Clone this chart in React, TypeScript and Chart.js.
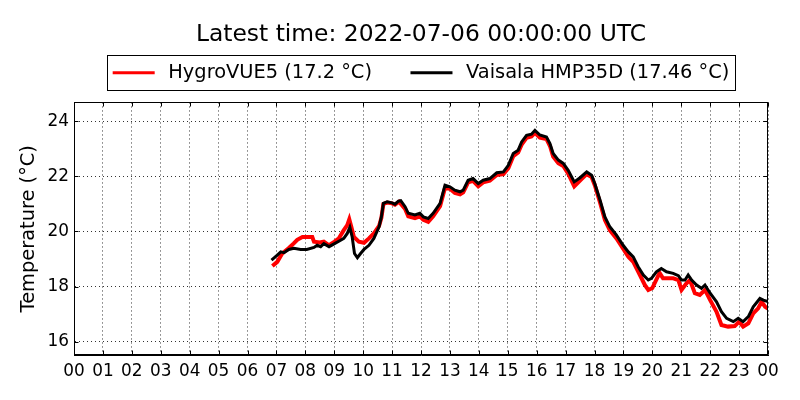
import { useEffect, useRef } from "react";
import { Chart, registerables } from "chart.js";

Chart.register(...registerables);

const FONT = "DejaVu Sans";

// hour labels along the bottom axis (0..24 h, midnight shown as 00 both ends)
const hourLabels = [
  "00", "01", "02", "03", "04", "05", "06", "07", "08", "09", "10", "11", "12",
  "13", "14", "15", "16", "17", "18", "19", "20", "21", "22", "23", "00",
];

// HygroVUE5 readings (hours since 2022-07-05 00:00 UTC, °C)
const hygroHours = [
  6.86, 7.03, 7.2, 7.43, 7.6, 7.72, 7.9, 8.07, 8.24, 8.3, 8.5, 8.64, 8.82, 9.01,
  9.16, 9.33, 9.45, 9.52, 9.59, 9.68, 9.85, 10.03, 10.2, 10.37, 10.55, 10.63,
  10.7, 10.83, 11.0, 11.1, 11.24, 11.45, 11.56, 11.79, 11.96, 12.08, 12.25,
  12.42, 12.66, 12.83, 13.0, 13.17, 13.35, 13.46, 13.63, 13.8, 13.98, 14.15,
  14.38, 14.62, 14.85, 15.02, 15.19, 15.36, 15.48, 15.65, 15.82, 15.94, 16.11,
  16.34, 16.46, 16.57, 16.75, 16.92, 17.09, 17.3, 17.5, 17.73, 17.9, 18.01,
  18.19, 18.36, 18.53, 18.76, 18.99, 19.17, 19.34, 19.51, 19.74, 19.86, 20.0,
  20.25, 20.37, 20.72, 20.9, 21.01, 21.18, 21.3, 21.47, 21.64, 21.82, 22.0,
  22.22, 22.39, 22.62, 22.85, 23.0, 23.14, 23.32, 23.49, 23.66, 23.78, 23.9, 24.0,
];
const hygroTemps = [
  18.75, 18.9, 19.2, 19.4, 19.57, 19.7, 19.8, 19.8, 19.8, 19.63, 19.6, 19.63,
  19.5, 19.63, 19.75, 20.05, 20.23, 20.44, 20.17, 19.8, 19.63, 19.59, 19.75,
  19.93, 20.2, 20.5, 21.0, 21.05, 21.02, 20.97, 21.08, 20.82, 20.55, 20.48,
  20.55, 20.42, 20.35, 20.55, 20.92, 21.58, 21.55, 21.4, 21.35, 21.42, 21.78,
  21.84, 21.64, 21.78, 21.84, 22.05, 22.08, 22.3, 22.73, 22.87, 23.15, 23.4,
  23.45, 23.58, 23.4, 23.35, 23.1, 22.72, 22.48, 22.38, 22.1, 21.64, 21.85,
  22.08, 21.98, 21.68, 21.05, 20.42, 20.05, 19.75, 19.38, 19.08, 18.9, 18.55,
  18.06, 17.88, 17.95, 18.5, 18.3, 18.3, 18.24, 17.88, 18.12, 18.24, 17.76,
  17.7, 17.88, 17.51, 17.09, 16.61, 16.55, 16.57, 16.73, 16.55, 16.67, 17.03,
  17.21, 17.45, 17.27, 17.2,
];

// Vaisala HMP35D readings
const vaisalaHours = [
  6.83, 7.03, 7.15, 7.26, 7.43, 7.6, 7.84, 8.05, 8.3, 8.41, 8.53, 8.64, 8.82,
  9.01, 9.22, 9.33, 9.45, 9.54, 9.62, 9.7, 9.8, 9.91, 10.03, 10.2, 10.37, 10.55,
  10.63, 10.7, 10.83, 11.0, 11.1, 11.22, 11.3, 11.45, 11.56, 11.79, 11.96, 12.08,
  12.25, 12.42, 12.66, 12.83, 13.0, 13.17, 13.35, 13.46, 13.63, 13.8, 13.98,
  14.15, 14.38, 14.62, 14.85, 15.02, 15.19, 15.36, 15.48, 15.65, 15.82, 15.94,
  16.11, 16.34, 16.46, 16.57, 16.75, 16.92, 17.09, 17.3, 17.5, 17.73, 17.9,
  18.01, 18.19, 18.36, 18.53, 18.76, 18.99, 19.17, 19.34, 19.51, 19.69, 19.86,
  19.97, 20.14, 20.31, 20.49, 20.72, 20.9, 21.01, 21.13, 21.24, 21.36, 21.53,
  21.7, 21.82, 22.0, 22.22, 22.39, 22.57, 22.8, 22.97, 23.14, 23.32, 23.49,
  23.72, 23.84, 24.0,
];
const vaisalaTemps = [
  18.96, 19.14, 19.26, 19.23, 19.35, 19.39, 19.35, 19.35, 19.42, 19.5, 19.45,
  19.56, 19.45, 19.56, 19.68, 19.75, 19.93, 20.15, 19.8, 19.2, 19.05, 19.2,
  19.35, 19.5, 19.75, 20.17, 20.53, 21.02, 21.08, 21.04, 20.99, 21.1, 21.12,
  20.9, 20.66, 20.6, 20.66, 20.53, 20.47, 20.66, 21.02, 21.68, 21.62, 21.5,
  21.44, 21.5, 21.86, 21.92, 21.74, 21.86, 21.92, 22.13, 22.16, 22.4, 22.83,
  22.95, 23.25, 23.49, 23.53, 23.67, 23.5, 23.43, 23.19, 22.83, 22.59, 22.47,
  22.22, 21.8, 21.95, 22.16, 22.04, 21.74, 21.14, 20.53, 20.17, 19.87, 19.5,
  19.26, 19.08, 18.72, 18.42, 18.24, 18.3, 18.54, 18.66, 18.54, 18.48, 18.4,
  18.24, 18.24, 18.42, 18.24, 18.06, 17.94, 18.06, 17.76, 17.45, 17.09, 16.85,
  16.73, 16.85, 16.73, 16.91, 17.27, 17.57, 17.51, 17.46,
];

// matplotlib-like frame: box on all four sides, inward ticks, framed legend
const axesFrame = {
  id: "axesFrame",
  afterDraw(chart: any) {
    const { ctx, chartArea: a, scales } = chart;
    const left = Math.round(a.left) + 0.5;
    const right = Math.round(a.right) - 0.5;
    const top = Math.round(a.top) + 0.5;
    const bottom = Math.round(a.bottom) - 0.5;
    ctx.save();
    ctx.strokeStyle = "#000";
    ctx.lineWidth = 1;
    ctx.setLineDash([]);
    ctx.strokeRect(left, top, right - left, bottom - top);

    ctx.beginPath();
    for (const t of scales.x.ticks) {
      const px = Math.round(scales.x.getPixelForValue(t.value)) + 0.5;
      ctx.moveTo(px, bottom);
      ctx.lineTo(px, bottom - 4);
      ctx.moveTo(px, top);
      ctx.lineTo(px, top + 4);
    }
    for (const t of scales.y.ticks) {
      const py = Math.round(scales.y.getPixelForValue(t.value)) + 0.5;
      ctx.moveTo(left, py);
      ctx.lineTo(left + 4, py);
      ctx.moveTo(right, py);
      ctx.lineTo(right - 4, py);
    }
    ctx.stroke();

    const boxes = chart.legend?.legendHitBoxes ?? [];
    if (boxes.length) {
      const bl = Math.round(Math.min(...boxes.map((b: any) => b.left))) - 5.5;
      const br = Math.round(Math.max(...boxes.map((b: any) => b.left + b.width))) + 6.5;
      const bt = Math.round(boxes[0].top) - 7.5;
      const bb = Math.round(boxes[0].top + boxes[0].height) + 8.5;
      ctx.strokeRect(bl, bt, br - bl, bb - bt);
    }
    ctx.restore();
  },
};

export default function App() {
  const canvasRef = useRef<HTMLCanvasElement | null>(null);

  useEffect(() => {
    if (!canvasRef.current) return;
    const ctx = canvasRef.current.getContext("2d");
    if (!ctx) return;

    const chart = new Chart(ctx, {
      type: "line",
      data: {
        datasets: [
          {
            label: "HygroVUE5 (17.2 °C)",
            data: hygroHours.map((h, i) => ({ x: h, y: hygroTemps[i] })),
            borderColor: "#ff0000",
            backgroundColor: "#ff0000",
            borderWidth: 4,
            pointRadius: 0,
            tension: 0,
            order: 2,
          },
          {
            label: "Vaisala HMP35D (17.46 °C)",
            data: vaisalaHours.map((h, i) => ({ x: h, y: vaisalaTemps[i] })),
            borderColor: "#000000",
            backgroundColor: "#000000",
            borderWidth: 3,
            pointRadius: 0,
            tension: 0,
            order: 1,
          },
        ],
      },
      options: {
        responsive: false,
        animation: false,
        layout: { padding: { left: 0, right: 32, top: 0, bottom: 0 } },
        plugins: {
          title: {
            display: true,
            text: "Latest time: 2022-07-06 00:00:00 UTC",
            color: "#000",
            fullSize: false,
            font: { family: FONT, size: 23.4, weight: "normal" },
            padding: { top: 21, bottom: 4 },
          },
          legend: {
            display: true,
            fullSize: false,
            labels: {
              color: "#000",
              font: { family: FONT, size: 19.4 },
              boxWidth: 42,
              boxHeight: 3,
              padding: 10,
              sort: (a: any, b: any) => a.datasetIndex - b.datasetIndex,
              generateLabels: (c: any) =>
                Chart.defaults.plugins.legend.labels
                  .generateLabels(c)
                  .map((item: any) => ({
                    ...item,
                    text:
                      "\u2009" + item.text + (item.datasetIndex === 0 ? "    \u2009" : ""),
                    fillStyle: item.strokeStyle,
                    lineWidth: 0,
                  })),
            },
          },
          tooltip: { enabled: false },
        },
        scales: {
          x: {
            type: "linear",
            min: 0,
            max: 24,
            afterFit: (s: any) => {
              s.height = 45;
            },
            grid: { color: "#333", lineWidth: 1, drawTicks: false },
            border: { display: true, color: "#000", dash: [1, 3] },
            ticks: {
              stepSize: 1,
              autoSkip: false,
              maxRotation: 0,
              padding: 6,
              color: "#000",
              font: { family: FONT, size: 16.9 },
              callback: (v: any) => hourLabels[Number(v)] ?? "",
            },
          },
          xTop: {
            type: "linear",
            position: "top",
            min: 0,
            max: 24,
            afterFit: (s: any) => {
              s.height = 10;
            },
            grid: { display: false, drawTicks: false },
            border: { display: false },
            ticks: { display: false },
          },
          y: {
            min: 15.52,
            max: 24.68,
            afterFit: (s: any) => {
              s.width = 74;
            },
            grid: { color: "#333", lineWidth: 1, drawTicks: false },
            border: { display: true, color: "#000", dash: [1, 3] },
            title: {
              display: true,
              text: "Temperature (°C)",
              color: "#000",
              font: { family: FONT, size: 19.4 },
              padding: { top: 17, bottom: 0 },
            },
            ticks: {
              stepSize: 2,
              includeBounds: false,
              padding: 5,
              color: "#000",
              font: { family: FONT, size: 16.9 },
            },
          },
        },
      },
      plugins: [axesFrame],
    });

    return () => {
      chart.destroy();
    };
  }, []);

  return (
    <div
      style={{
        position: "absolute",
        left: 0,
        top: 0,
        width: "800px",
        height: "400px",
        background: "#fff",
      }}
    >
      <canvas ref={canvasRef} width={800} height={400} />
    </div>
  );
}
